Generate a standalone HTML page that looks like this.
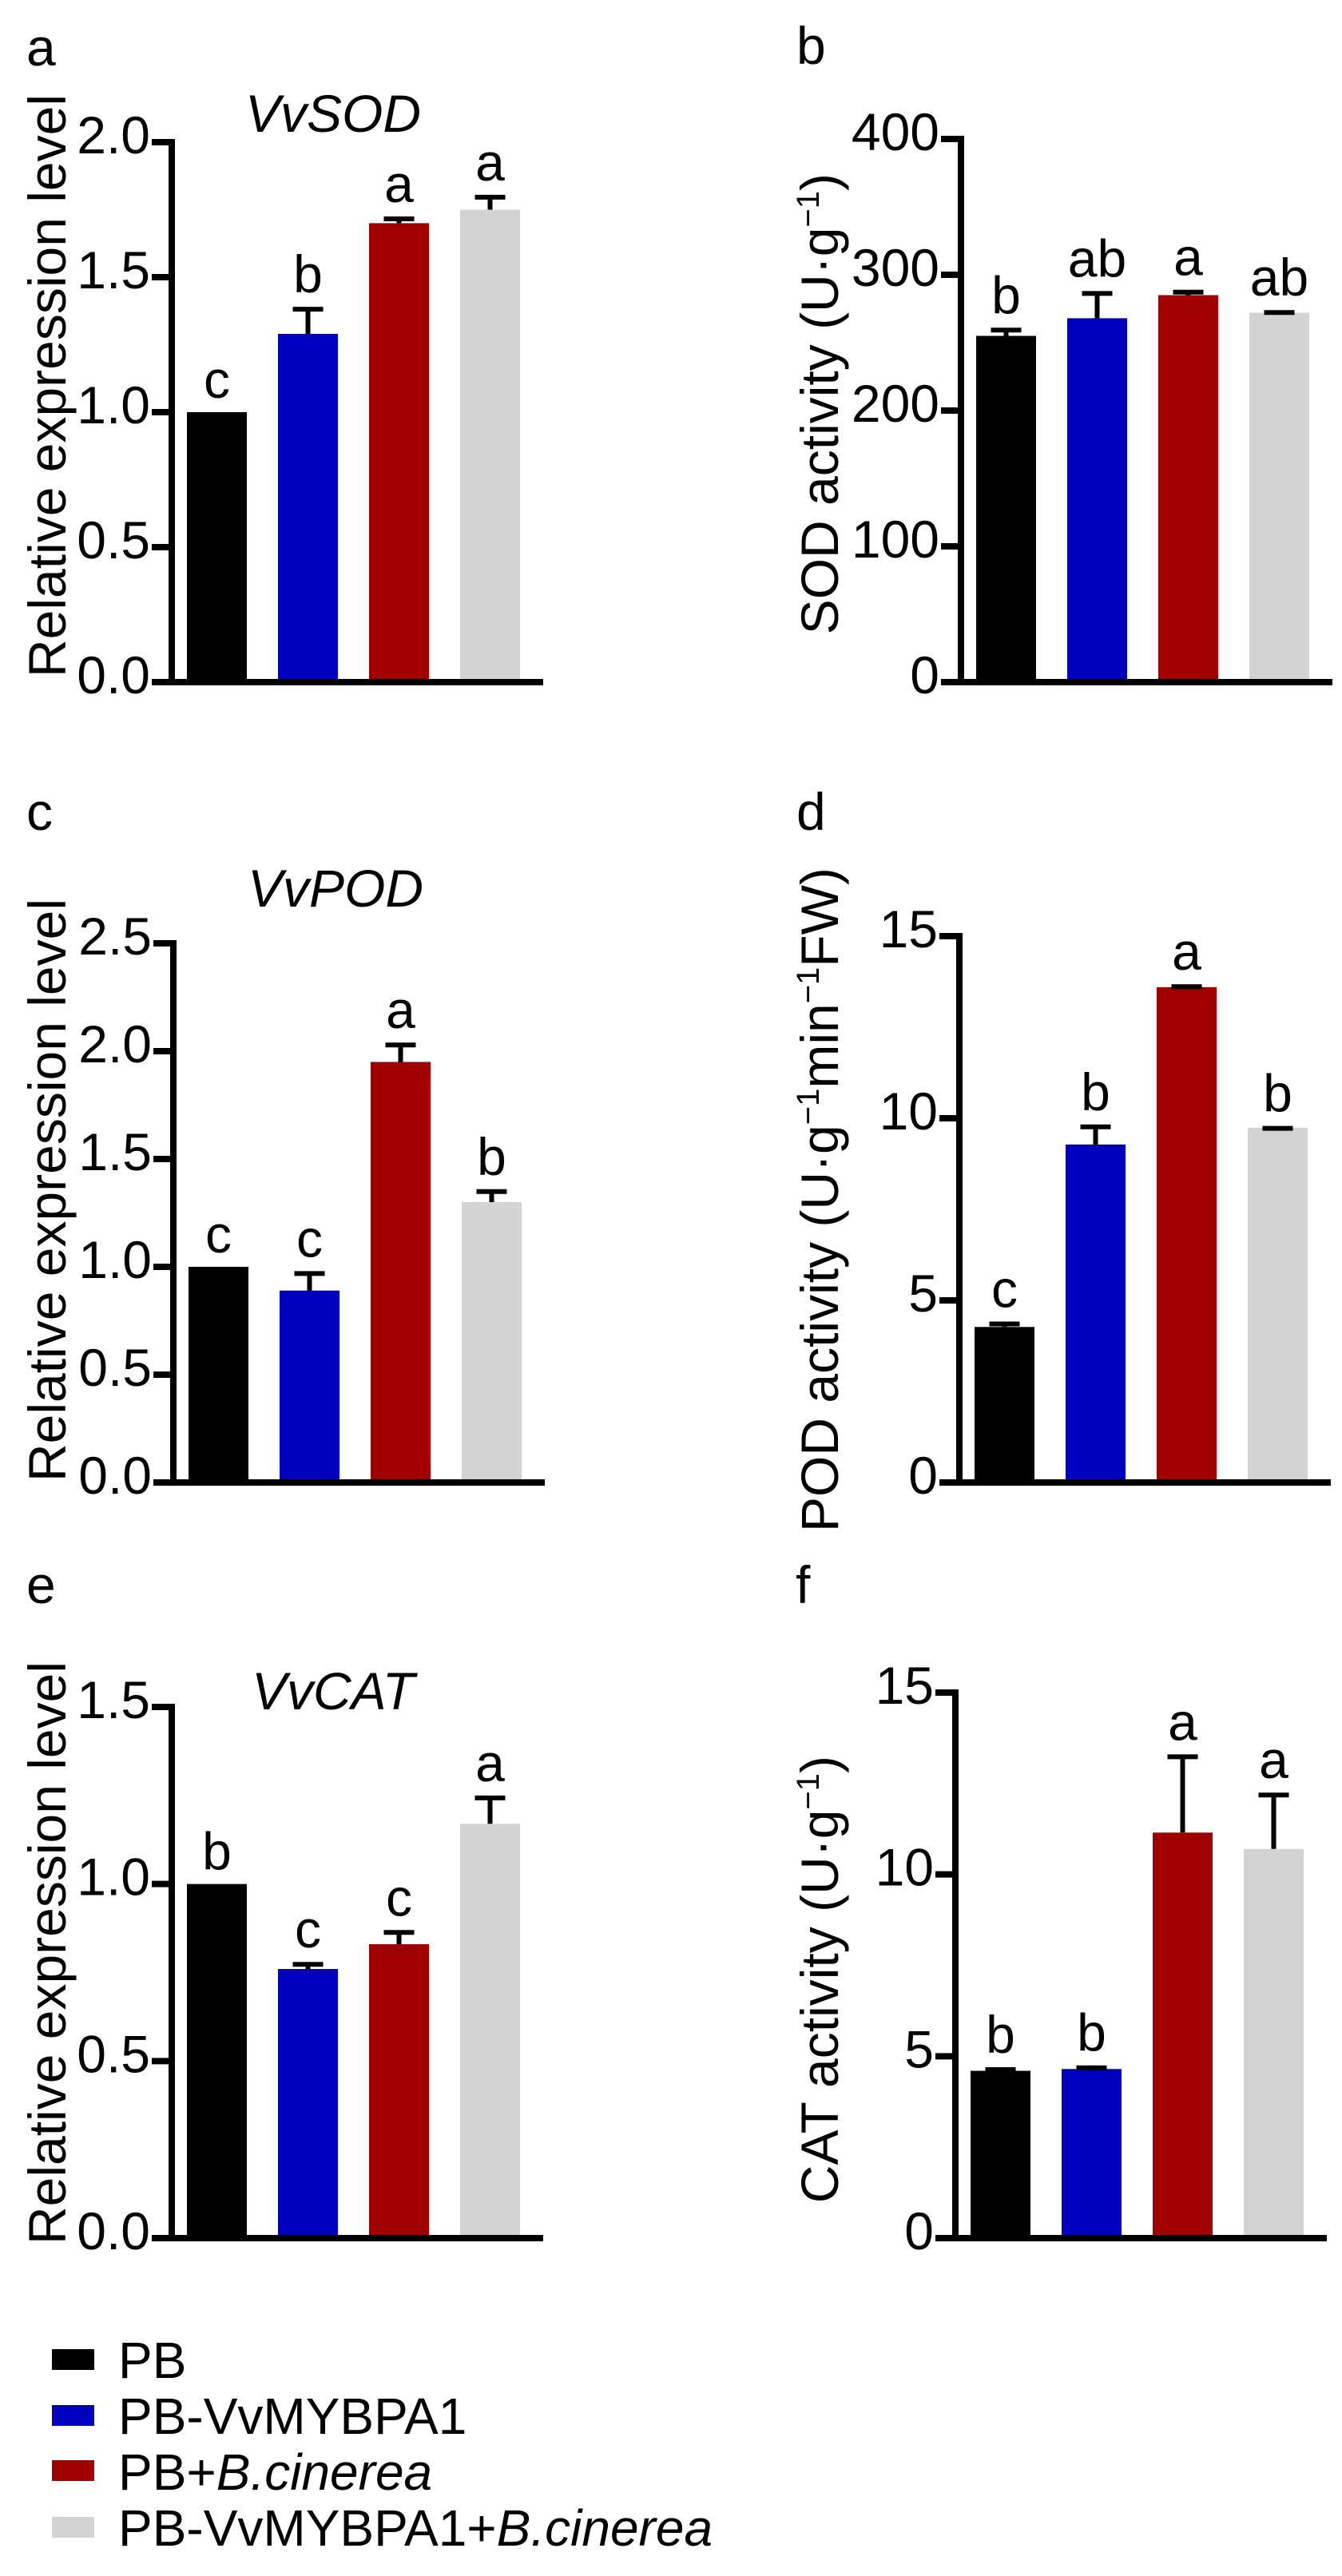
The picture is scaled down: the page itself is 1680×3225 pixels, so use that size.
<!DOCTYPE html>
<html><head><meta charset="utf-8"><style>
html,body{margin:0;padding:0;background:#fff;}
svg{display:block;font-family:"Liberation Sans",Arial,sans-serif;}
</style></head><body>
<svg id="fig" xmlns="http://www.w3.org/2000/svg" width="1680" height="3225" viewBox="0 0 1680 3225">
<rect width="1680" height="3225" fill="#fff"/>
<g id="titles" font-size="66" fill="#000">
  <text x="33" y="82">a</text>
  <text x="997" y="80">b</text>
  <text x="33" y="1039">c</text>
  <text x="997" y="1039">d</text>
  <text x="33" y="2007">e</text>
  <text x="996" y="2007">f</text>
  <text x="417" y="165" text-anchor="middle" font-style="italic">VvSOD</text>
  <text x="420" y="1135" text-anchor="middle" font-style="italic">VvPOD</text>
  <text x="417" y="2140" text-anchor="middle" font-style="italic">VvCAT</text>
  <text transform="translate(82,118) rotate(-90)" text-anchor="end">Relative expression level</text>
  <text transform="translate(82,1125) rotate(-90)" text-anchor="end">Relative expression level</text>
  <text transform="translate(82,2080) rotate(-90)" text-anchor="end">Relative expression level</text>
  <text transform="translate(1049,217) rotate(-90)" text-anchor="end">SOD activity (U·g<tspan font-size="40" dy="-24">−1</tspan><tspan dy="24">)</tspan></text>
  <text transform="translate(1049,1918) rotate(-90)" text-anchor="start">POD activity (U·g<tspan font-size="40" dy="-24">−1</tspan><tspan dy="24">min</tspan><tspan font-size="40" dy="-24">−1</tspan><tspan dy="24">FW)</tspan></text>
  <text transform="translate(1049,2198) rotate(-90)" text-anchor="end">CAT activity (U·g<tspan font-size="40" dy="-24">−1</tspan><tspan dy="24">)</tspan></text>
</g>
<g id="legend" font-size="64">
  <rect x="65" y="2941" width="53" height="26" fill="#000"/>
  <text x="148" y="2977">PB</text>
  <rect x="65" y="3011" width="53" height="26" fill="#0000c0"/>
  <text x="148" y="3047">PB-VvMYBPA1</text>
  <rect x="65" y="3080" width="53" height="26" fill="#a00000"/>
  <text x="148" y="3117">PB+<tspan font-style="italic">B.cinerea</tspan></text>
  <rect x="65" y="3151" width="53" height="26" fill="#d3d3d3"/>
  <text x="148" y="3187">PB-VvMYBPA1+<tspan font-style="italic">B.cinerea</tspan></text>
</g>
</svg>
<script>
const groups = ["PB","PB-VvMYBPA1","PB+B.cinerea","PB-VvMYBPA1+B.cinerea"];
const colors = ["#000000","#0000c0","#a00000","#d3d3d3"];
const sodExpr = [1.0, 1.29, 1.70, 1.75];
const sodExprErr = [0, 0.10, 0.025, 0.055];
const sodExprSig = ["c","b","a","a"];
const sodAct = [255, 268, 285, 272];
const sodActErr = [6, 20, 4, 2];
const sodActSig = ["b","ab","a","ab"];
const podExpr = [1.0, 0.89, 1.95, 1.30];
const podExprErr = [0, 0.09, 0.09, 0.06];
const podExprSig = ["c","c","a","b"];
const podAct = [4.27, 9.28, 13.6, 9.74];
const podActErr = [0.15, 0.55, 0.08, 0.05];
const podActSig = ["c","b","a","b"];
const catExpr = [1.0, 0.76, 0.83, 1.17];
const catExprErr = [0, 0.02, 0.04, 0.08];
const catExprSig = ["b","c","c","a"];
const catAct = [4.6, 4.65, 11.15, 10.7];
const catActErr = [0.1, 0.1, 2.15, 1.55];
const catActSig = ["b","b","a","a"];
const ticksExpr2 = ["0.0","0.5","1.0","1.5","2.0"];
const ticksSod = ["0","100","200","300","400"];
const ticksExpr25 = ["0.0","0.5","1.0","1.5","2.0","2.5"];
const ticks15 = ["0","5","10","15"];
const ticksExpr15 = ["0.0","0.5","1.0","1.5"];

const NS = "http://www.w3.org/2000/svg";
const svg = document.getElementById("fig");
function mk(tag, attrs, parent){
  const e = document.createElementNS(NS, tag);
  for (const k in attrs) e.setAttribute(k, attrs[k]);
  parent.appendChild(e);
  return e;
}
function panel(id, ax, y0, yTop, ticks, vals, errs, sig){
  const max = parseFloat(ticks[ticks.length-1]);
  const y = v => y0 - (v / max) * (y0 - yTop);
  const x = i => ax + 19 + i * 114;
  const g = mk("g", {}, svg);
  
  
  vals.forEach((v, i) => {
    const b = mk("rect", {x: x(i), y: y(v), width: 75, height: y0 - 4 - y(v), fill: colors[i]}, g);
    
    
    const top = y(v + errs[i]);
    if (errs[i] > 0) {
      const cx = x(i) + 37.5;
      const el = mk("path", {d: "M" + cx + " " + y(v) + "V" + top + "M" + (cx-19) + " " + (top+3) + "H" + (cx+19), stroke: "#000", "stroke-width": 6, fill: "none"}, g);
      
      
    }
    const t = mk("text", {x: x(i) + 37.5, y: top - 18, "text-anchor": "middle", "font-size": 66}, g);
    t.textContent = sig[i];
    
    
  });
  const yAxis = mk("line", {x1: ax, y1: yTop - 4, x2: ax, y2: y0 + 4, stroke: "#000", "stroke-width": 8}, g);
  
  
  const xAxis = mk("line", {x1: ax - 25, y1: y0, x2: ax + 465, y2: y0, stroke: "#000", "stroke-width": 8}, g);
  
  
  ticks.forEach(tk => {
    const ty = y(parseFloat(tk));
    const tl = mk("line", {x1: ax - 25, y1: ty, x2: ax, y2: ty, stroke: "#000", "stroke-width": 8}, g);
    
    
    const lab = mk("text", {x: ax - 27, y: ty + 14, "text-anchor": "end", "font-size": 66}, g);
    lab.textContent = tk;
    
    
  });
}
panel("a", 215, 854, 178, ticksExpr2, sodExpr, sodExprErr, sodExprSig);
panel("b", 1203, 854, 174, ticksSod, sodAct, sodActErr, sodActSig);
panel("c", 217, 1856, 1181, ticksExpr25, podExpr, podExprErr, podExprSig);
panel("d", 1201, 1856, 1172, ticks15, podAct, podActErr, podActSig);
panel("e", 215, 2802, 2137, ticksExpr15, catExpr, catExprErr, catExprSig);
panel("f", 1196, 2802, 2119, ticks15, catAct, catActErr, catActSig);
</script>
</body></html>
